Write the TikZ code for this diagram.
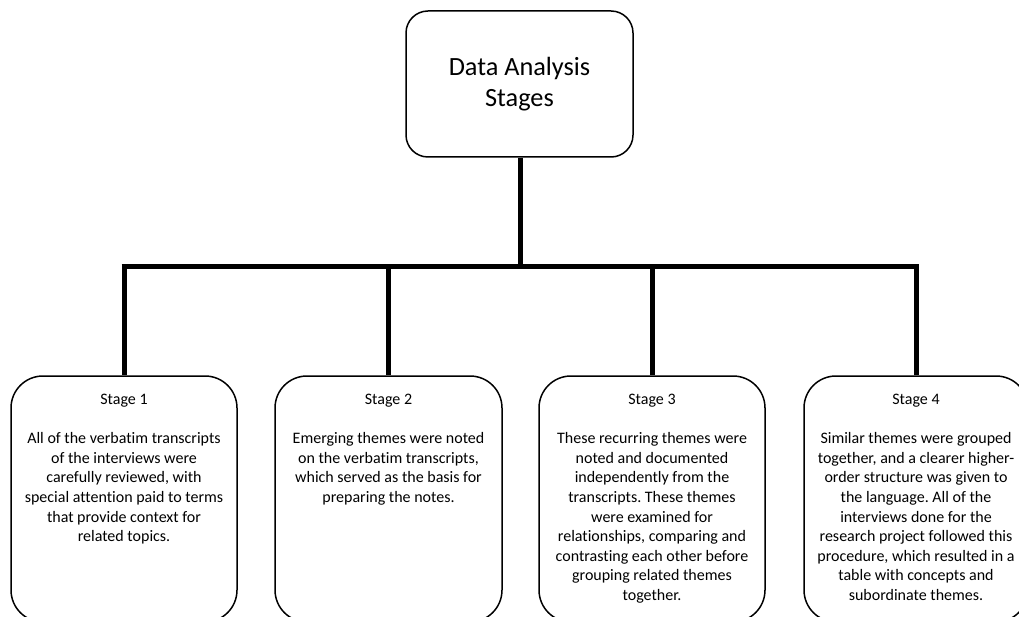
\documentclass[tikz,border=0pt]{standalone}
\usepackage{fontspec}
\setmainfont{Carlito}[Ligatures=NoCommon]
\frenchspacing
\begin{document}
\begin{tikzpicture}[x=1pt,y=-1pt,
  topbox/.style={draw=black,line width=1.5pt,rounded corners=22pt,minimum width=227pt,minimum height=146pt,inner sep=0pt,align=center,font=\fontsize{26.3}{31}\selectfont},
  stagebox/.style={draw=black,line width=1.5pt,rounded corners=32pt,minimum height=246pt,inner sep=0pt},
  stagetext/.style={anchor=north,inner sep=0pt,align=center,font=\fontsize{16}{19.6}\selectfont},
  conn/.style={line width=5pt,draw=black}]
\path[use as bounding box] (0,0) rectangle (1019,617);
\clip (0,0) rectangle (1019,617);
\node[topbox] (top) at (519.5,84) {Data Analysis\\Stages};
\node[stagebox,minimum width=226pt] (s1) at (124,499) {};
\node[stagebox,minimum width=227pt] (s2) at (388.5,499) {};
\node[stagebox,minimum width=226pt] (s3) at (652,499) {};
\node[stagebox,minimum width=224pt] (s4) at (916,499) {};
\node[stagetext] (t1) at (124,394) {Stage 1\\[19.6pt]All of the verbatim transcripts\\of the interviews were\\carefully reviewed, with\\special attention paid to terms\\that provide context for\\related topics.};
\node[stagetext] (t2) at (388.5,394) {Stage 2\\[19.6pt]Emerging themes were noted\\on the verbatim transcripts,\\which served as the basis for\\preparing the notes.};
\node[stagetext] (t3) at (652,394) {Stage 3\\[19.6pt]These recurring themes were\\noted and documented\\independently from the\\transcripts. These themes\\were examined for\\relationships, comparing and\\contrasting each other before\\grouping related themes\\together.};
\node[stagetext] (t4) at (916,394) {Stage 4\\[19.6pt]Similar themes were grouped\\together, and a clearer higher-\\order structure was given to\\the language. All of the\\interviews done for the\\research project followed this\\procedure, which resulted in a\\table with concepts and\\subordinate themes.};
\coordinate (hub) at (520,266.5);
\coordinate (hl) at (121.5,266.5);
\coordinate (hr) at (918.5,266.5);
\draw[conn] (top.south -| hub) -- (hub);
\draw[conn] (hl) -- (hr);
\draw[conn] (s1.north |- hl) -- (s1.north);
\draw[conn] (s2.north |- hl) -- (s2.north);
\draw[conn] (s3.north |- hl) -- (s3.north);
\draw[conn] (s4.north |- hl) -- (s4.north);
\end{tikzpicture}
\end{document}
